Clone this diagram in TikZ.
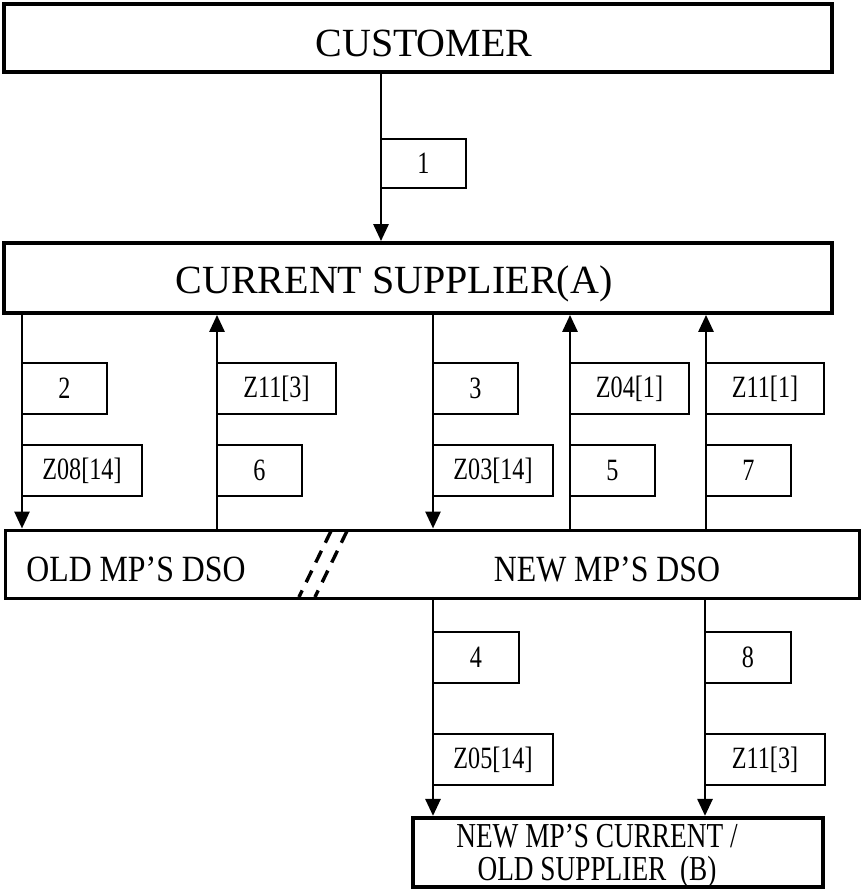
\documentclass[tikz,border=0pt]{standalone}
\usepackage{fontspec}
\setmainfont{Liberation Serif}
\newfontfamily\condfont[FakeStretch=0.78]{Liberation Serif}
\newfontfamily\midfont[FakeStretch=0.86]{Liberation Serif}
\usetikzlibrary{arrows.meta}
\begin{document}
\begin{tikzpicture}[x=1pt,y=-1pt,
  bigbox/.style={draw,line width=3.8pt,inner sep=0pt},
  dsobox/.style={draw,line width=3pt,inner sep=0pt},
  lbl/.style={draw,line width=1.4pt,inner sep=0pt,outer sep=0pt,anchor=north west,minimum height=51pt,font=\condfont\fontsize{31}{33}\selectfont},
  big/.style={font=\fontsize{40}{44}\selectfont,inner sep=0pt},
  mid/.style={font=\midfont\fontsize{37}{31}\selectfont,inner sep=0pt},
  bot/.style={font=\condfont\fontsize{35}{32.5}\selectfont,inner sep=0pt},
  arr/.style={line width=2.8pt,-{Triangle[length=17pt,width=15pt]}},
  cut/.style={line width=3.4pt,dash pattern=on 13pt off 9pt}
]
\useasboundingbox (0,0) rectangle (861,890);
% main boxes
\node[bigbox,minimum width=828pt,minimum height=68pt] (cust) at (418,38) {};
\node[big,anchor=base] (custtxt) at (424,57) {CUSTOMER};
\node[bigbox,minimum width=828pt,minimum height=70pt] (sup) at (418,278) {};
\node[big,anchor=base] (suptxt) at (394,293) {CURRENT SUPPLIER(A)};
\node[dsobox,minimum width=854pt,minimum height=68pt] (dso) at (432,564) {};
\node[mid,anchor=base] (oldtxt) at (136,581) {OLD MP’S DSO};
\node[mid,anchor=base] (newtxt) at (607,581) {NEW MP’S DSO};
\node[bigbox,line width=4.2pt,minimum width=410pt,minimum height=69pt] (newb) at (618,852.5) {};
\node[bot,align=center] (newbtxt) at (597,856) {NEW MP’S CURRENT /\\OLD SUPPLIER~ (B)};
% arrow columns
\coordinate (c1) at (381,0);
\coordinate (c2) at (22,0);
\coordinate (c3) at (217,0);
\coordinate (c4) at (433,0);
\coordinate (c5) at (570,0);
\coordinate (c6) at (706,0);
\coordinate (c7) at (705,0);
% arrows
\draw[arr] (c1 |- cust.south) -- (c1 |- sup.north);
\draw[arr] (c2 |- sup.south) -- (c2 |- dso.north);
\draw[arr] (c3 |- dso.north) -- (c3 |- sup.south);
\draw[arr] (c4 |- sup.south) -- (c4 |- dso.north);
\draw[arr] (c5 |- dso.north) -- (c5 |- sup.south);
\draw[arr] (c6 |- dso.north) -- (c6 |- sup.south);
\draw[arr] (c4 |- dso.south) -- (c4 |- newb.north);
\draw[arr] (c7 |- dso.south) -- (c7 |- newb.north);
% labels
\node[lbl,minimum width=85pt,minimum height=49pt] (l1) at (381,139) {1};
\node[lbl,minimum width=85pt] (l2) at (22,363) {2};
\node[lbl,minimum width=119pt] (lz113) at (217,363) {Z11[3]};
\node[lbl,minimum width=85pt] (l3) at (433,363) {3};
\node[lbl,minimum width=119pt] (lz041) at (570,363) {Z04[1]};
\node[lbl,minimum width=118pt] (lz111) at (706,363) {Z11[1]};
\node[lbl,minimum width=120pt] (lz0814) at (22,445) {Z08[14]};
\node[lbl,minimum width=85pt] (l6) at (217,445) {6};
\node[lbl,minimum width=120pt] (lz0314) at (433,445) {Z03[14]};
\node[lbl,minimum width=85pt] (l5) at (570,445) {5};
\node[lbl,minimum width=85pt] (l7) at (706,445) {7};
\node[lbl,minimum width=86pt] (l4) at (433,632) {4};
\node[lbl,minimum width=120pt] (lz0514) at (433,734) {Z05[14]};
\node[lbl,minimum width=86pt] (l8) at (705,632) {8};
\node[lbl,minimum width=120pt] (lz113b) at (705,734) {Z11[3]};
% cut marks
\coordinate (d1a) at (331,531);
\coordinate (d1b) at (299,597);
\coordinate (d2a) at (347,531);
\coordinate (d2b) at (315,597);
\draw[cut] (d1a) -- (d1b);
\draw[cut] (d2a) -- (d2b);
\end{tikzpicture}
\end{document}
